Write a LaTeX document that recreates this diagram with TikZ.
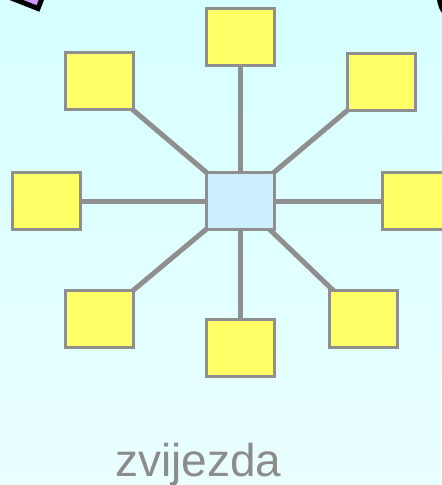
\documentclass[tikz,border=0pt]{standalone}
\usepackage{fontspec}
\setmainfont{Liberation Sans}
\begin{document}
\begin{tikzpicture}[x=1pt,y=-1pt,
  leaf/.style={draw=linegray,line width=3pt,fill=leafyellow,minimum width=68pt,minimum height=57pt,inner sep=0pt},
  hub/.style={leaf,fill=hubblue},
  link/.style={draw=linegray,line width=5pt}]
\definecolor{linegray}{HTML}{8F8F8F}
\definecolor{leafyellow}{HTML}{FFFF66}
\definecolor{hubblue}{HTML}{CCEEFF}
\definecolor{bgtop}{HTML}{D6FFFF}
\definecolor{bgbot}{HTML}{EAFFFF}
\definecolor{tabviolet}{HTML}{CC99FF}
\definecolor{labelgray}{HTML}{8C8C8C}
\useasboundingbox (0,0) rectangle (442,485);
\begin{scope}
\clip (0,0) rectangle (442,485);
\shade[top color=bgtop,bottom color=bgbot] (0,0) rectangle (442,485);
% corner tabs along the top edge
\draw[line width=5pt,fill=tabviolet,line join=miter] (38,8.5) -- ++(-84,-33) -- ++(33,-84) -- ++(84,33) -- cycle;
\fill[black] (437,0) .. controls (438,6) and (440,11) .. (443,14) -- (443,0) -- cycle;
% star network: links first, boxes on top
\coordinate (cc) at (240,201);
\foreach \p in {(240,37),(99,81),(381,82),(46,201),(416,201),(99,319),(240,348),(363,319)}
  \draw[link] (cc) -- \p;
\node[hub] (c) at (cc) {};
\node[leaf] (n) at (240,37) {};
\node[leaf] (nw) at (99,81) {};
\node[leaf] (ne) at (381,82) {};
\node[leaf] (w) at (46,201) {};
\node[leaf] (e) at (416,201) {};
\node[leaf] (sw) at (99,319) {};
\node[leaf] (s) at (240,348) {};
\node[leaf] (se) at (363,319) {};
\node[anchor=base,text=labelgray,font=\fontsize{46}{50}\selectfont,inner sep=0pt] (lbl) at (198.5,476) {zvijezda};
\end{scope}
\end{tikzpicture}
\end{document}
